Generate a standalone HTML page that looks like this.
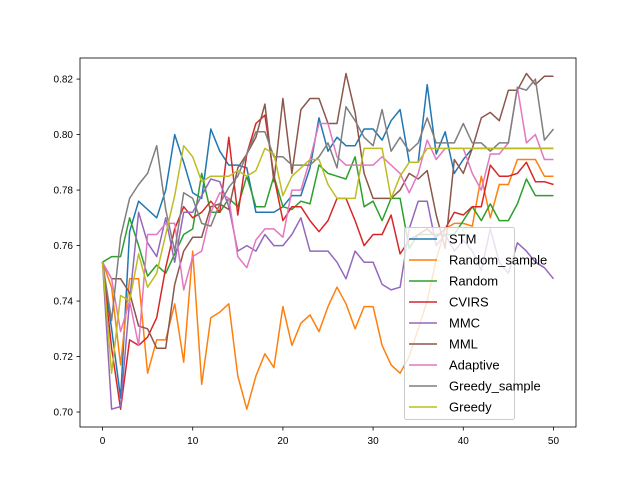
<!DOCTYPE html>
<html><head><meta charset="utf-8"><style>
body{margin:0;background:#fff}
svg{display:block;font-family:"Liberation Sans","DejaVu Sans",sans-serif}
</style></head><body>
<svg id="chart" width="640" height="480">
<rect width="640" height="480" fill="#fff"/>
<g id="series"></g>
<g id="axes"></g>
<g id="legend"></g>
</svg>
<script>
const xValues = Array.from({length:51},(_,i)=>i);
const seriesNames = ["STM","Random_sample","Random","CVIRS","MMC","MML","Adaptive","Greedy_sample","Greedy"];
const seriesColors = ["#1f77b4","#ff7f0e","#2ca02c","#d62728","#9467bd","#8c564b","#e377c2","#7f7f7f","#bcbd22"];
const stm = [0.754,0.73,0.705,0.765,0.776,0.773,0.770,0.780,0.800,0.790,0.779,0.777,0.802,0.794,0.789,0.789,0.788,0.772,0.772,0.772,0.774,0.778,0.778,0.788,0.806,0.794,0.799,0.796,0.796,0.802,0.802,0.798,0.805,0.809,0.790,0.790,0.818,0.793,0.801,0.786,0.791,0.795,0.795,0.795,0.795,0.795,0.795,0.795,0.795,0.795,0.795];
const randomSample = [0.754,0.745,0.717,0.748,0.748,0.714,0.726,0.726,0.739,0.718,0.758,0.710,0.734,0.736,0.739,0.713,0.701,0.713,0.721,0.716,0.738,0.724,0.732,0.735,0.729,0.738,0.745,0.739,0.730,0.738,0.738,0.724,0.717,0.714,0.720,0.730,0.740,0.755,0.766,0.768,0.768,0.767,0.785,0.770,0.782,0.782,0.791,0.791,0.791,0.785,0.785];
const randomS = [0.754,0.756,0.756,0.770,0.760,0.749,0.753,0.750,0.757,0.764,0.766,0.786,0.772,0.772,0.777,0.774,0.785,0.774,0.774,0.785,0.774,0.773,0.776,0.775,0.789,0.786,0.785,0.784,0.792,0.774,0.776,0.769,0.777,0.777,0.759,0.764,0.764,0.764,0.764,0.764,0.769,0.774,0.769,0.775,0.769,0.769,0.775,0.784,0.778,0.778,0.778];
const cvirs = [0.754,0.723,0.701,0.726,0.724,0.727,0.734,0.752,0.766,0.774,0.770,0.772,0.776,0.772,0.799,0.771,0.793,0.804,0.807,0.785,0.769,0.774,0.774,0.769,0.765,0.769,0.777,0.777,0.769,0.760,0.764,0.764,0.771,0.757,0.762,0.764,0.766,0.763,0.766,0.772,0.771,0.774,0.774,0.789,0.785,0.785,0.786,0.790,0.783,0.783,0.782];
const mmc = [0.754,0.701,0.702,0.740,0.772,0.761,0.756,0.770,0.754,0.772,0.772,0.778,0.784,0.783,0.774,0.758,0.760,0.758,0.764,0.760,0.760,0.764,0.770,0.758,0.758,0.758,0.754,0.748,0.758,0.754,0.754,0.746,0.744,0.745,0.766,0.776,0.776,0.760,0.764,0.758,0.762,0.758,0.751,0.766,0.754,0.750,0.761,0.758,0.754,0.752,0.748];
const mml = [0.754,0.748,0.748,0.743,0.731,0.730,0.723,0.723,0.746,0.758,0.763,0.763,0.774,0.775,0.773,0.788,0.793,0.799,0.811,0.783,0.813,0.786,0.809,0.813,0.813,0.804,0.804,0.822,0.808,0.786,0.777,0.777,0.777,0.780,0.786,0.784,0.787,0.771,0.759,0.791,0.786,0.795,0.806,0.808,0.805,0.816,0.816,0.822,0.818,0.821,0.821];
const adaptive = [0.754,0.748,0.729,0.740,0.724,0.764,0.764,0.768,0.768,0.744,0.756,0.758,0.772,0.779,0.777,0.756,0.752,0.762,0.766,0.766,0.763,0.780,0.780,0.791,0.804,0.804,0.792,0.789,0.789,0.789,0.789,0.792,0.789,0.786,0.779,0.786,0.798,0.791,0.795,0.795,0.795,0.786,0.780,0.793,0.793,0.797,0.817,0.797,0.800,0.791,0.791];
const greedySample = [0.754,0.733,0.763,0.777,0.782,0.786,0.796,0.773,0.758,0.779,0.777,0.768,0.767,0.775,0.781,0.785,0.793,0.801,0.801,0.792,0.792,0.789,0.789,0.789,0.792,0.797,0.788,0.810,0.805,0.799,0.796,0.809,0.794,0.799,0.794,0.797,0.806,0.797,0.797,0.797,0.804,0.797,0.797,0.794,0.797,0.797,0.817,0.816,0.820,0.798,0.802];
const greedy = [0.754,0.714,0.742,0.740,0.757,0.745,0.750,0.764,0.778,0.796,0.792,0.783,0.785,0.785,0.785,0.787,0.785,0.787,0.795,0.793,0.778,0.785,0.788,0.791,0.791,0.782,0.777,0.777,0.777,0.795,0.795,0.795,0.777,0.785,0.790,0.790,0.795,0.795,0.795,0.795,0.795,0.795,0.795,0.795,0.795,0.795,0.795,0.795,0.795,0.795,0.795];
const allSeries = [stm,randomSample,randomS,cvirs,mmc,mml,adaptive,greedySample,greedy];
const xTicks = [0,10,20,30,40,50];
const yTicks = [0.70,0.72,0.74,0.76,0.78,0.80,0.82];

const NS="http://www.w3.org/2000/svg";
const L=80,R=576,T=58,B=427;
const xMin=-2.5,xMax=52.5,yMin=0.6946,yMax=0.8276;
const xs=v=>L+(v-xMin)/(xMax-xMin)*(R-L);
const ys=v=>B-(v-yMin)/(yMax-yMin)*(B-T);
function mk(tag,attrs,parent){const e=document.createElementNS(NS,tag);for(const k in attrs)e.setAttribute(k,attrs[k]);parent.appendChild(e);return e;}

const sg=document.getElementById('series');
allSeries.forEach((s,i)=>{
  const p=mk('polyline',{points:s.map((v,j)=>xs(xValues[j]).toFixed(1)+','+ys(v).toFixed(1)).join(' '),fill:'none',stroke:seriesColors[i],'stroke-width':1.5,'stroke-linejoin':'round'},sg);
  
  
});

const ag=document.getElementById('axes');
const fr=mk('rect',{x:L,y:T,width:R-L,height:B-T,fill:'none',stroke:'#000','stroke-width':0.8},ag);


xTicks.forEach(t=>{
  const x=xs(t);
  const tk=mk('line',{x1:x,x2:x,y1:B,y2:B+3.5,stroke:'#000','stroke-width':0.8},ag);
  
  
  const tx=mk('text',{x:x,y:B+17,'font-size':10,'text-anchor':'middle',fill:'#000'},ag);
  tx.textContent=t;
  
  
});
yTicks.forEach(t=>{
  const y=ys(t);
  const tk=mk('line',{x1:L-3.5,x2:L,y1:y,y2:y,stroke:'#000','stroke-width':0.8},ag);
  
  
  const tx=mk('text',{x:L-7,y:y+3.5,'font-size':10,'text-anchor':'end',fill:'#000'},ag);
  tx.textContent=t.toFixed(2);
  
  
});

const lg=document.getElementById('legend');
const box=mk('rect',{x:404.5,y:227.5,width:110,height:192,rx:2,fill:'#fff','fill-opacity':0.8,stroke:'#ccc','stroke-width':1},lg);


seriesNames.forEach((n,i)=>{
  const y=239+i*21;
  const ln=mk('line',{x1:409,x2:437,y1:y,y2:y,stroke:seriesColors[i],'stroke-width':1.5},lg);
  
  
  const tx=mk('text',{x:449,y:y+4.5,'font-size':13,fill:'#000'},lg);
  tx.textContent=n;
  
  
});
</script>
</body></html>
